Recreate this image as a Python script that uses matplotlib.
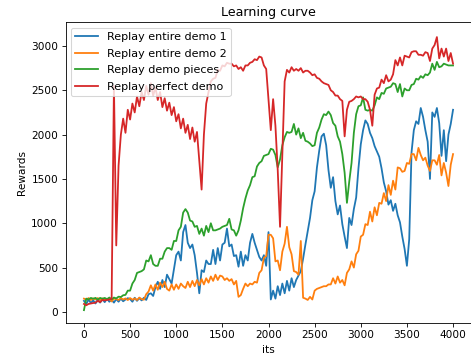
import numpy as np
import matplotlib
matplotlib.use("Agg")
import matplotlib.pyplot as plt

# iterations, one sample every 25 its
its = np.arange(0, 4001, 25)

demo1 = [
    125, 90, 140, 100, 130, 95, 140, 105, 145, 110, 150, 115, 135, 105, 145, 115, 150, 120, 140, 155,
    145, 115, 160, 125, 155, 130, 160, 135, 200, 210, 180, 280, 340, 260, 360, 280, 420, 370, 320, 480,
    640, 680, 580, 900, 980, 780, 720, 760, 640, 440, 210, 470, 450, 580, 540, 540, 700, 540, 720, 580,
    760, 780, 940, 740, 760, 630, 640, 510, 680, 520, 640, 580, 780, 880, 780, 700, 620, 580, 640, 520,
    900, 140, 240, 150, 290, 190, 320, 210, 350, 240, 380, 280, 360, 410, 460, 600, 760, 910, 1060, 1260,
    1360, 1630, 1820, 1980, 2010, 1880, 1600, 1400, 1520, 1250, 1100, 1200, 990, 850, 720, 1060, 980, 1160, 1290, 1620,
    1890, 2050, 2160, 2120, 2020, 1960, 1870, 1810, 1750, 1620, 1460, 1360, 1210, 1260, 1140, 1220, 1090, 1010, 850, 710,
    520, 820, 1800, 2050, 2150, 2120, 2300, 2200, 2050, 1920, 1500, 2250, 2200, 2300, 2130, 1760, 2050, 1700, 2000, 2120,
    2280,
]

demo2 = [
    150, 138, 156, 134, 152, 140, 156, 134, 152, 140, 146, 152, 118, 150, 146, 134, 156, 140, 152, 134,
    156, 138, 152, 134, 162, 144, 138, 200, 230, 300, 240, 310, 250, 330, 280, 340, 260, 240, 310, 250,
    310, 260, 320, 290, 270, 340, 280, 350, 290, 360, 300, 370, 310, 380, 330, 400, 350, 420, 360, 410,
    400, 360, 380, 350, 370, 310, 350, 170, 190, 260, 320, 290, 320, 310, 340, 330, 440, 470, 610, 630,
    870, 870, 830, 570, 580, 470, 680, 770, 960, 730, 650, 460, 450, 420, 800, 160, 150, 135, 170, 140,
    240, 260, 270, 280, 290, 290, 310, 310, 380, 320, 400, 330, 360, 300, 440, 480, 570, 500, 650, 690,
    850, 870, 990, 980, 1130, 1020, 1180, 1090, 1230, 1220, 1340, 1250, 1430, 1320, 1480, 1380, 1630, 1620, 1580, 1590,
    1680, 1670, 1780, 1780, 1710, 1850, 1770, 1710, 1740, 1650, 1590, 1710, 1710, 1660, 1770, 1540, 1680, 1570, 1420, 1660,
    1780,
]

pieces = [
    20, 150, 140, 158, 148, 158, 138, 158, 148, 158, 142, 162, 142, 162, 152, 172, 168, 188, 192, 240,
    240, 320, 360, 440, 450, 460, 480, 580, 570, 640, 540, 520, 520, 600, 600, 680, 720, 720, 700, 800,
    800, 920, 960, 1120, 1160, 1120, 1030, 1020, 960, 970, 880, 940, 860, 970, 900, 1000, 920, 920, 930, 940,
    960, 970, 980, 1050, 930, 920, 860, 920, 1030, 1170, 1280, 1370, 1430, 1520, 1530, 1640, 1680, 1700, 1760, 1770,
    1780, 1840, 1830, 1770, 1630, 1720, 1880, 1970, 2030, 2020, 2030, 2120, 2000, 2070, 1960, 2020, 1930, 1920, 1900, 1870,
    1880, 2020, 2080, 2170, 2230, 2220, 2260, 2220, 2130, 2100, 1980, 1920, 1780, 1570, 1230, 1470, 1680, 2020, 2230, 2320,
    2330, 2420, 2280, 2270, 2280, 2270, 2330, 2420, 2400, 2470, 2460, 2520, 2530, 2540, 2580, 2570, 2480, 2570, 2430, 2520,
    2500, 2500, 2560, 2570, 2630, 2620, 2660, 2640, 2680, 2670, 2700, 2800, 2730, 2820, 2760, 2770, 2800, 2790, 2780, 2780,
    2780,
]

perfect = [
    90, 75, 90, 95, 100, 105, 125, 110, 135, 130, 135, 140, 150, 2550, 750, 1650, 2000, 2180, 2020, 2280,
    2170, 2350, 2250, 2430, 2320, 2480, 2390, 2550, 2450, 2580, 2440, 2530, 2390, 2480, 2310, 2410, 2270, 2360, 2220, 2310,
    2150, 2230, 2070, 2180, 2020, 2110, 1950, 2080, 1920, 2030, 1700, 1380, 2000, 2350, 2480, 2600, 2630, 2640, 2730, 2720,
    2780, 2770, 2810, 2800, 2800, 2770, 2780, 2740, 2760, 2720, 2780, 2780, 2810, 2820, 2850, 2840, 2880, 2870, 2780, 2740,
    2400, 2050, 2400, 2100, 1600, 960, 1800, 2600, 2730, 2700, 2760, 2720, 2740, 2720, 2750, 2700, 2720, 2720, 2700, 2670,
    2680, 2640, 2630, 2600, 2580, 2570, 2560, 2500, 2480, 2440, 2440, 2400, 2380, 1980, 2280, 2370, 2380, 2400, 2430, 2420,
    2430, 2400, 2400, 2370, 2280, 2100, 2450, 2520, 2530, 2620, 2580, 2670, 2600, 2620, 2680, 2840, 2780, 2870, 2780, 2890,
    2880, 2870, 2930, 2940, 2940, 2900, 2900, 2890, 2930, 2920, 2830, 2970, 3010, 3100, 2860, 2970, 2880, 2970, 2830, 2920,
    2800,
]

labels = ["Replay entire demo 1", "Replay entire demo 2",
          "Replay demo pieces", "Replay perfect demo"]

fig = plt.figure(figsize=(471 / 76, 362 / 76), dpi=76)
ax = fig.add_axes([65.5 / 471, 39 / 362, 406 / 471, 301 / 362])

for series, lab in zip([demo1, demo2, pieces, perfect], labels):
    ax.plot(its, series, label=lab, linewidth=1.7)

ax.set_xlim(-200, 4200)
ax.set_ylim(-125, 3270)
ax.set_title("Learning curve")
ax.set_xlabel("its")
ax.set_ylabel("Rewards")
ax.legend(loc="upper left", fontsize=10.5, labelspacing=0.6)

fig.savefig("out.png", dpi=76)
